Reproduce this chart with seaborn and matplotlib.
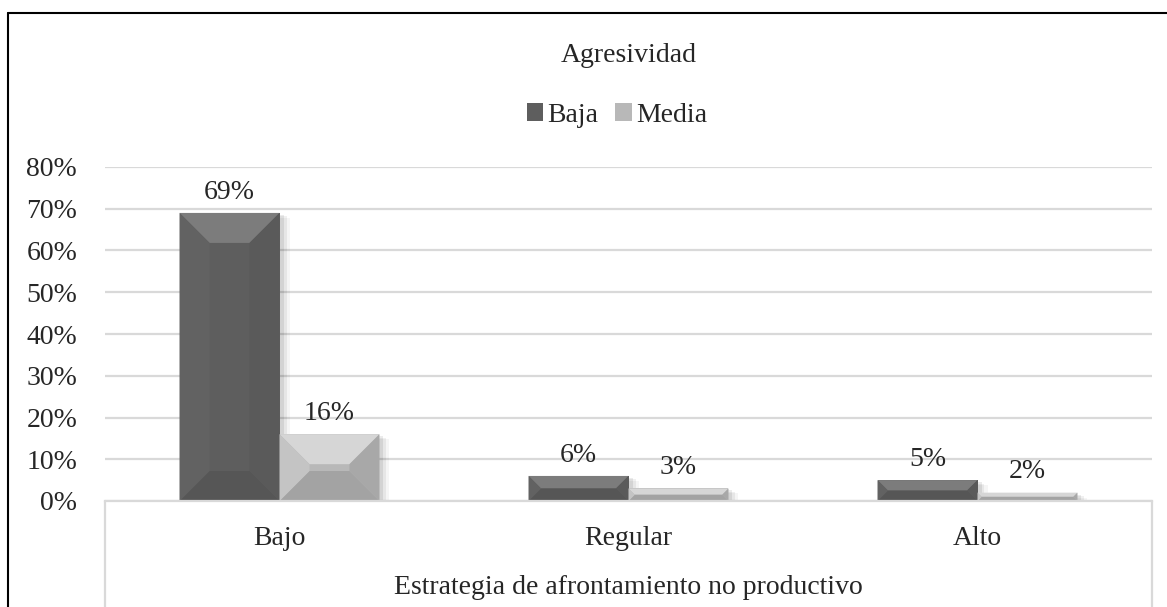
import numpy as np
import pandas as pd
import matplotlib.pyplot as plt
import seaborn as sns
from matplotlib.patches import Polygon
from matplotlib.lines import Line2D
from matplotlib.ticker import PercentFormatter
from matplotlib.transforms import ScaledTranslation

# datos
categorias = ["Bajo", "Regular", "Alto"]
series = ["Baja", "Media"]
baja = [0.69, 0.06, 0.05]
media = [0.16, 0.03, 0.02]
titulo = "Agresividad"
eje_x = "Estrategia de afrontamiento no productivo"

colores = {"Baja": "#5e5e5e", "Media": "#b8b8b8"}
facetas = {
    "Baja": {"top": "#7c7c7c", "bottom": "#565656", "left": "#626262", "right": "#5a5a5a"},
    "Media": {"top": "#d6d6d6", "bottom": "#a3a3a3", "left": "#c4c4c4", "right": "#a8a8a8"},
}

df = pd.DataFrame({
    "categoria": categorias * 2,
    "serie": [series[0]] * len(categorias) + [series[1]] * len(categorias),
    "valor": baja + media,
})

sns.set_style("white")
plt.rcParams["font.family"] = ["Liberation Serif", "DejaVu Serif"]
FS = 20

W, H = 1167, 607
fig = plt.figure(figsize=(W / 100, H / 100), dpi=100)
ax = fig.add_axes([105 / W, 1 - 501 / H, (1152 - 105) / W, (501 - 167) / H])

sns.barplot(data=df, x="categoria", y="valor", hue="serie", order=categorias,
            hue_order=series, palette=colores, width=0.573, gap=0,
            linewidth=0, saturation=1, ax=ax, zorder=2)

ax.set_ylim(0, 0.8)
ax.set_yticks(np.arange(0, 0.81, 0.1))
ax.yaxis.set_major_formatter(PercentFormatter(1.0, decimals=0))
ax.tick_params(axis="y", length=0, pad=20, labelsize=FS)
ax.tick_params(axis="x", length=0, pad=18, labelsize=FS)
ax.set_axisbelow(True)
ax.yaxis.grid(True, color="#d9d9d9", lw=1.6)
for s in ["left", "right", "top"]:
    ax.spines[s].set_visible(False)
ax.spines["bottom"].set_color("#d9d9d9")
ax.spines["bottom"].set_linewidth(1.6)
ax.set_ylabel("")
ax.set_xlabel(eje_x, fontsize=FS, va="center")
ax.xaxis.set_label_coords(0.5, -(587 - 501) / (501 - 167))

# caja bajo el eje x
for xa in [0, 1]:
    ax.add_line(Line2D([xa, xa], [0, -0.4], transform=ax.transAxes,
                       clip_on=False, color="#d9d9d9", lw=1.6))

handles, labels = ax.get_legend_handles_labels()
ax.get_legend().remove()

fig.canvas.draw()
to_px = ax.transData
to_data = ax.transData.inverted()


def px2data(pts):
    return to_data.transform(np.array(pts))


# biselado y sombra de cada barra
desplaza = ScaledTranslation(0, 6 / 72, fig.dpi_scale_trans)
for cont, serie in zip(ax.containers, series):
    f = facetas[serie]
    for p in cont.patches:
        x0, y0 = p.get_x(), p.get_y()
        (a, b) = to_px.transform((x0, y0))
        (c, d) = to_px.transform((x0 + p.get_width(), y0 + p.get_height()))
        # sombra suave
        for k, al in [(10, 0.04), (7, 0.06), (4, 0.08)]:
            sh = px2data([(a + k, b), (c + k, b), (c + k, d - k * 0.5), (a + k, d - k * 0.5)])
            ax.add_patch(Polygon(sh, closed=True, facecolor="black", alpha=al,
                                 lw=0, zorder=1.5))
        dd = min(30, (d - b) / 2, (c - a) / 2)
        caras = {
            "top": [(a, d), (c, d), (c - dd, d - dd), (a + dd, d - dd)],
            "bottom": [(a, b), (c, b), (c - dd, b + dd), (a + dd, b + dd)],
            "left": [(a, b), (a + dd, b + dd), (a + dd, d - dd), (a, d)],
            "right": [(c, b), (c - dd, b + dd), (c - dd, d - dd), (c, d)],
        }
        for nombre, pts in caras.items():
            ax.add_patch(Polygon(px2data(pts), closed=True, facecolor=f[nombre],
                                 lw=0, zorder=2.1))
        ax.text(x0 + p.get_width() / 2, y0 + p.get_height(),
                f"{p.get_height() * 100:.0f}%", ha="center", va="bottom",
                fontsize=FS, zorder=3, transform=ax.transData + desplaza)

fig.text(628.5 / W, 1 - 55 / H, titulo, ha="center", va="center", fontsize=FS)
fig.legend(handles, labels, loc="center", bbox_to_anchor=(617 / W, 1 - 115 / H),
           ncol=2, frameon=False, fontsize=FS, handlelength=0.6, handleheight=0.6,
           handletextpad=0.15, columnspacing=0.6)

# borde de la figura (recortado a derecha y abajo)
fig.add_artist(Line2D([8 / W, 8 / W], [0, 1 - 13 / H], transform=fig.transFigure,
                      color="black", lw=1.5))
fig.add_artist(Line2D([8 / W, 1], [1 - 13 / H, 1 - 13 / H], transform=fig.transFigure,
                      color="black", lw=1.5))

fig.savefig("out.png", dpi=100)
